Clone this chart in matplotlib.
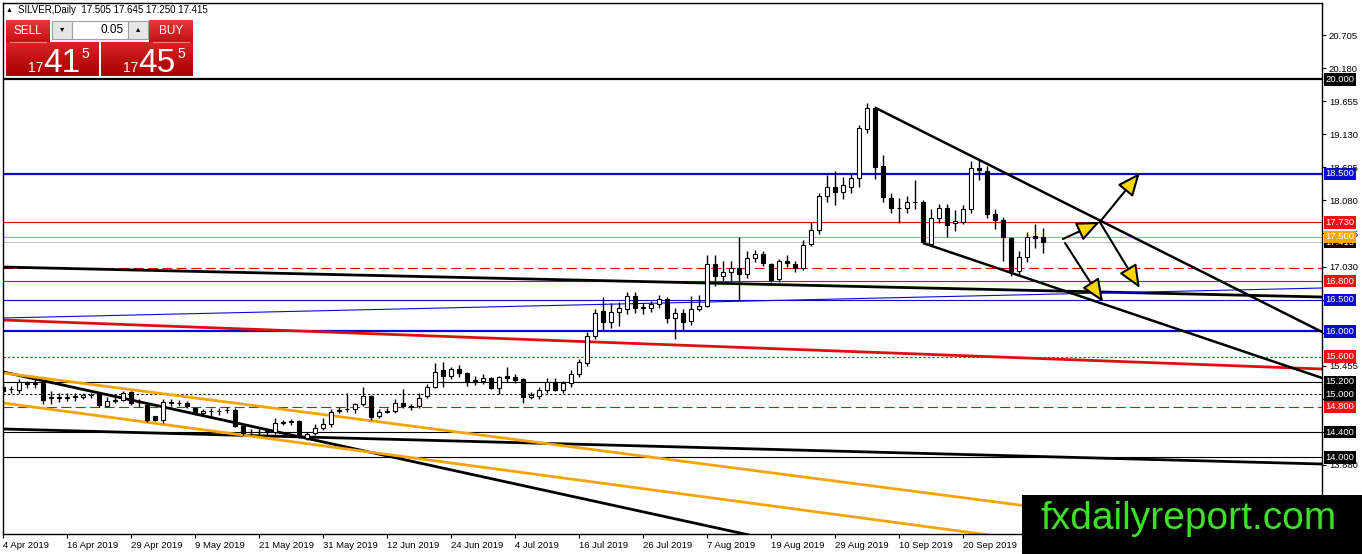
import numpy as np
import matplotlib.pyplot as plt
import matplotlib.colors as mcolors
from matplotlib.patches import Rectangle, FancyArrowPatch
from matplotlib.transforms import blended_transform_factory

plt.rcParams['font.family'] = ['Liberation Sans', 'DejaVu Sans']

# ---- data -------------------------------------------------------------
opens = [15.12, 15.08, 15.07, 15.19, 15.17, 15.18, 14.96, 14.95, 14.96, 14.96,
         14.96, 14.99, 15.00, 14.82, 14.90, 14.91, 15.04, 14.88, 14.83, 14.65,
         14.60, 14.88, 14.86, 14.87, 14.78, 14.70, 14.74, 14.74, 14.75, 14.76,
         14.50, 14.40, 14.41, 14.40, 14.40, 14.55, 14.56, 14.57, 14.31, 14.38,
         14.46, 14.53, 14.74, 14.77, 14.77, 14.85, 14.97, 14.65, 14.72, 14.74,
         14.87, 14.82, 14.81, 14.97, 15.12, 15.39, 15.30, 15.40, 15.34, 15.22,
         15.21, 15.26, 15.10, 15.29, 15.28, 15.25, 14.96, 14.97, 15.07, 15.20,
         15.07, 15.18, 15.33, 15.50, 15.93, 16.32, 16.15, 16.31, 16.36, 16.56,
         16.37, 16.37, 16.43, 16.51, 16.21, 16.29, 16.16, 16.36, 16.40, 17.07,
         16.88, 16.94, 17.00, 16.91, 17.17, 17.23, 17.07, 16.83, 17.12, 17.07,
         17.01, 17.38, 17.61, 18.15, 18.30, 18.21, 18.30, 18.44, 19.21, 19.55,
         18.62, 18.12, 17.96, 17.96, 18.05, 18.05, 17.39, 17.80, 17.96, 17.72,
         17.74, 17.94, 18.60, 18.55, 17.86, 17.77, 17.48, 16.96, 17.18, 17.51,
         17.505]
highs = [15.18, 15.13, 15.24, 15.22, 15.24, 15.20, 15.05, 15.02, 15.03, 15.03,
         15.02, 15.03, 15.02, 14.96, 14.96, 15.05, 15.06, 14.93, 14.88, 14.66,
         14.93, 14.93, 14.91, 14.89, 14.80, 14.77, 14.79, 14.78, 14.80, 14.78,
         14.52, 14.45, 14.45, 14.44, 14.62, 14.60, 14.61, 14.60, 14.40, 14.53,
         14.62, 14.77, 14.80, 15.02, 14.87, 15.12, 14.99, 14.77, 14.78, 14.92,
         15.09, 14.84, 15.02, 15.16, 15.50, 15.51, 15.44, 15.47, 15.36, 15.30,
         15.32, 15.28, 15.30, 15.43, 15.32, 15.26, 15.04, 15.11, 15.26, 15.26,
         15.22, 15.39, 15.56, 15.99, 16.35, 16.55, 16.45, 16.47, 16.62, 16.62,
         16.45, 16.49, 16.57, 16.54, 16.37, 16.36, 16.56, 16.58, 17.21, 17.22,
         17.12, 17.11, 17.50, 17.28, 17.30, 17.28, 17.09, 17.15, 17.22, 17.12,
         17.45, 17.74, 18.20, 18.48, 18.54, 18.45, 18.52, 19.27, 19.63, 19.58,
         18.80, 18.20, 18.12, 18.15, 18.40, 18.08, 17.95, 18.02, 18.02, 17.92,
         18.00, 18.70, 18.72, 18.62, 17.95, 17.82, 17.50, 17.27, 17.58, 17.70,
         17.645]
lows = [14.98, 15.03, 15.03, 15.10, 15.10, 14.85, 14.85, 14.88, 14.89, 14.90,
        14.92, 14.94, 14.80, 14.80, 14.86, 14.89, 14.83, 14.80, 14.56, 14.57,
        14.55, 14.82, 14.82, 14.79, 14.68, 14.66, 14.63, 14.68, 14.71, 14.48,
        14.36, 14.36, 14.35, 14.35, 14.37, 14.51, 14.52, 14.30, 14.27, 14.35,
        14.43, 14.49, 14.70, 14.72, 14.70, 14.82, 14.60, 14.62, 14.70, 14.71,
        14.79, 14.75, 14.78, 14.94, 15.10, 15.12, 15.25, 15.28, 15.14, 15.15,
        15.17, 15.09, 15.00, 15.20, 15.18, 14.86, 14.93, 14.93, 15.03, 15.05,
        15.03, 15.12, 15.28, 15.45, 15.88, 16.02, 16.06, 16.09, 16.27, 16.30,
        16.27, 16.31, 16.37, 16.14, 15.88, 16.02, 16.10, 16.33, 16.38, 16.72,
        16.80, 16.75, 16.50, 16.84, 17.10, 17.04, 16.79, 16.79, 17.03, 16.94,
        16.97, 17.36, 17.55, 18.05, 18.00, 18.10, 18.20, 18.30, 19.15, 18.42,
        18.05, 17.88, 17.72, 17.88, 17.95, 17.40, 17.37, 17.72, 17.50, 17.60,
        17.70, 17.88, 18.40, 17.80, 17.62, 17.12, 16.88, 16.90, 17.10, 17.33,
        17.25]
closes = [15.05, 15.09, 15.19, 15.16, 15.18, 14.91, 14.95, 14.96, 14.95, 14.97,
          14.99, 14.99, 14.83, 14.90, 14.91, 15.03, 14.86, 14.89, 14.60, 14.60,
          14.88, 14.86, 14.86, 14.82, 14.70, 14.74, 14.74, 14.74, 14.76, 14.50,
          14.39, 14.41, 14.40, 14.42, 14.55, 14.56, 14.57, 14.33, 14.37, 14.47,
          14.53, 14.72, 14.76, 14.77, 14.85, 14.97, 14.64, 14.72, 14.74, 14.87,
          14.82, 14.80, 14.95, 15.12, 15.36, 15.29, 15.40, 15.34, 15.21, 15.23,
          15.26, 15.10, 15.28, 15.26, 15.23, 14.96, 14.99, 15.07, 15.20, 15.07,
          15.18, 15.33, 15.51, 15.93, 16.29, 16.15, 16.31, 16.37, 16.56, 16.37,
          16.38, 16.43, 16.51, 16.21, 16.29, 16.15, 16.36, 16.41, 17.07, 16.88,
          16.94, 17.00, 16.91, 17.16, 17.23, 17.08, 16.81, 17.12, 17.08, 17.01,
          17.37, 17.61, 18.15, 18.29, 18.21, 18.32, 18.44, 19.23, 19.55, 18.61,
          18.13, 17.96, 17.96, 18.06, 18.06, 17.42, 17.80, 17.96, 17.69, 17.75,
          17.94, 18.60, 18.56, 17.86, 17.77, 17.50, 16.96, 17.18, 17.50, 17.49,
          17.415]

date_ticks = [0, 8, 16, 24, 32, 40, 48, 56, 64, 72, 80, 88, 96, 104, 112, 120]
date_labels = ['4 Apr 2019', '16 Apr 2019', '29 Apr 2019', '9 May 2019',
               '21 May 2019', '31 May 2019', '12 Jun 2019', '24 Jun 2019',
               '4 Jul 2019', '16 Jul 2019', '26 Jul 2019', '7 Aug 2019',
               '19 Aug 2019', '29 Aug 2019', '10 Sep 2019', '20 Sep 2019']
price_ticks = [20.705, 20.180, 19.655, 19.130, 18.605, 18.080, 17.555, 17.030,
               16.505, 15.980, 15.455, 14.930, 14.405, 13.880, 13.355]
# grid labels that sit fully under a level tag (or the watermark) stay blank
hidden_ticks = [16.505, 15.980, 14.930, 14.405, 13.355]

# horizontal levels
levels = [20.000, 18.500, 17.730, 17.415, 17.500, 17.000, 16.800, 16.500,
          16.000, 15.600, 15.200, 15.000, 14.800, 14.400, 14.000]
level_colors = ['black', '#0a0ad2', '#e00000', '#c0c0c0', '#ffa500', '#e00000',
                '#e00000', '#0a0ad2', '#0a0ad2', '#e00000', 'black', 'black',
                '#e00000', 'black', 'black']
level_widths = [1.6, 1.6, 0.8, 0.8, 0.8, 0.8, 0.8, 0.8, 1.6, 0.8, 0.8, 0.8,
                0.8, 0.8, 0.8]
level_dashes = [None, None, None, None, None, (9, 4), None, None, None,
                (2, 2), None, (2, 2), (9, 4), None, None]
level_tags = [True, True, True, True, True, False, True, True, True, True,
              True, True, True, True, True]
tag_colors = ['black', '#0a0ad2', '#ee1111', 'black', '#ffa500', None,
              '#ee1111', '#0a0ad2', '#0a0ad2', '#ee1111', 'black', 'black',
              '#ee1111', 'black', 'black']

# trend lines: (bar0, price0, bar1, price1)
trend_x0 = [0, 0, 0, 0, 0, 0, 0, 109.1, 115.0]
trend_y0 = [17.022, 16.213, 16.181, 14.451, 15.356, 15.340, 14.864, 19.546, 17.403]
trend_x1 = [164.9, 164.9, 164.9, 164.9, 164.9, 164.9, 164.9, 164.9, 164.9]
trend_y1 = [16.546, 16.689, 15.403, 13.895, 10.780, 12.620, 12.060, 15.990, 15.260]
trend_colors = ['black', '#0a0ad2', '#dd1010', 'black', 'black', '#f5a30a',
                '#f5a30a', 'black', 'black']
trend_widths = [2.0, 0.8, 2.0, 2.0, 2.0, 2.0, 2.0, 1.8, 1.8]

# scenario arrows: (bar0, price0) -> (bar1, price1)
arrow_x0 = [132.5, 137.1, 137.1, 132.75]
arrow_y0 = [17.467, 17.737, 17.737, 17.404]
arrow_x1 = [137.1, 142.1, 142.1, 137.5]
arrow_y1 = [17.737, 18.515, 16.689, 16.467]

header = 'SILVER,Daily  17.505 17.645 17.250 17.415'

# ---- figure -----------------------------------------------------------
W, H = 1362, 554
fig = plt.figure(figsize=(W / 100, H / 100), dpi=100)
fig.patch.set_facecolor('white')
ax = fig.add_axes([3 / W, 20 / H, 1319 / W, 531 / H])
ax.set_xlim(0, 1319 / 8)
ax.set_ylim(12.784, 21.213)

for i, lv in enumerate(levels):
    ln = ax.axhline(lv, color=level_colors[i], lw=level_widths[i], zorder=1)
    if level_dashes[i] is not None:
        ln.set_dashes(level_dashes[i])

for i in range(len(trend_x0)):
    ax.plot([trend_x0[i], trend_x1[i]], [trend_y0[i], trend_y1[i]],
            color=trend_colors[i], lw=trend_widths[i], zorder=2,
            solid_capstyle='butt')

# candles
x = np.arange(len(opens))
o = np.array(opens); c = np.array(closes)
hi = np.array(highs); lo = np.array(lows)
ax.vlines(x, lo, hi, color='black', lw=1, zorder=3)
up = c >= o
ax.bar(x[up], (c - o)[up], bottom=o[up], width=0.62, color='white',
       edgecolor='black', lw=0.8, zorder=4)
ax.bar(x[~up], (o - c)[~up], bottom=c[~up], width=0.62, color='black',
       edgecolor='black', lw=0.8, zorder=4)

for i in range(len(arrow_x0)):
    ar = FancyArrowPatch((arrow_x0[i], arrow_y0[i]), (arrow_x1[i], arrow_y1[i]),
                         arrowstyle='-|>,head_length=0.7,head_width=0.3',
                         mutation_scale=20, fc='#ffd500', ec='black', lw=1.5,
                         shrinkA=0, shrinkB=0, zorder=6)
    ax.add_patch(ar)

ax.yaxis.tick_right()
ax.set_yticks(price_ticks)
ax.set_yticklabels(['' if p in hidden_ticks else '%.3f' % p for p in price_ticks])
ax.set_xticks(date_ticks)
ax.set_xticklabels(date_labels, ha='left')
ax.tick_params(axis='both', direction='out', length=3, width=0.8,
               labelsize=6.8, pad=2, colors='black')
for s in ax.spines.values():
    s.set_linewidth(1)

tr = blended_transform_factory(ax.transAxes, ax.transData)
for i, lv in enumerate(levels):
    if level_tags[i]:
        ax.text(1.0025, lv, '%.3f' % lv, transform=tr, ha='left', va='center',
                fontsize=6.8, color='white', clip_on=False, zorder=8 + i * 0.01,
                bbox=dict(boxstyle='square,pad=0.18', fc=tag_colors[i], ec='none'))

# ---- overlay: trade panel, header and watermark (pixel coordinates) ----
ov = fig.add_axes([0, 0, 1, 1], zorder=10)
ov.axis('off')
ov.patch.set_alpha(0)


def grad_box(x0, y0, x1, y1, ctop, cbot):
    t = np.linspace(0, 1, 64)[:, None, None]
    a = np.array(mcolors.to_rgb(ctop)); b = np.array(mcolors.to_rgb(cbot))
    img = a + (b - a) * t
    ov.imshow(img, extent=(x0, x1, y1, y0), aspect='auto',
              interpolation='bilinear', zorder=1)


ov.text(6, 10, '\u25b2', fontsize=5, va='center', ha='left', color='black')
ov.text(18, 10, header, fontsize=7, va='center', ha='left', color='black')

# sell / buy tabs and price boxes
grad_box(6, 20, 50, 42, '#e63a3a', '#c41010')
grad_box(149, 20, 193, 42, '#e63a3a', '#c41010')
grad_box(6, 42, 99, 76, '#d82424', '#a80000')
grad_box(101, 42, 193, 76, '#d82424', '#a80000')
ov.plot([10, 46], [42, 42], color='#f08080', lw=0.8, zorder=2)
ov.plot([153, 189], [42, 42], color='#f08080', lw=0.8, zorder=2)
ov.add_patch(Rectangle((52, 21), 20, 18, fc='#e6e6e6', ec='#a0a0a0', lw=0.8, zorder=2))
ov.add_patch(Rectangle((72, 21), 56, 18, fc='white', ec='#a0a0a0', lw=0.8, zorder=2))
ov.add_patch(Rectangle((128, 21), 20, 18, fc='#e6e6e6', ec='#a0a0a0', lw=0.8, zorder=2))
ov.text(62, 30, '\u25be', fontsize=6, ha='center', va='center', color='black', zorder=3)
ov.text(138, 30, '\u25b4', fontsize=6, ha='center', va='center', color='black', zorder=3)
ov.text(124, 30, '0.05', fontsize=8.5, ha='right', va='center', color='black', zorder=3)
ov.text(28, 31, 'SELL', fontsize=8.5, ha='center', va='center', color='white', zorder=3)
ov.text(171, 31, 'BUY', fontsize=8.5, ha='center', va='center', color='white', zorder=3)
ov.text(36, 72, '17', fontsize=10, ha='center', va='baseline', color='white', zorder=3)
ov.text(43, 72, '41', fontsize=24, ha='left', va='baseline', color='white', zorder=3)
ov.text(85, 58, '5', fontsize=10, ha='center', va='baseline', color='white', zorder=3)
ov.text(131, 72, '17', fontsize=10, ha='center', va='baseline', color='white', zorder=3)
ov.text(138, 72, '45', fontsize=24, ha='left', va='baseline', color='white', zorder=3)
ov.text(181, 58, '5', fontsize=10, ha='center', va='baseline', color='white', zorder=3)

# watermark
ov.add_patch(Rectangle((1022, 495), W - 1022, H - 495, fc='black', ec='none', zorder=2))
ov.text(1189, 529, 'fxdailyreport.com', fontsize=28, ha='center', va='baseline',
        color='#3ee02a', zorder=3)

ov.set_xlim(0, W)
ov.set_ylim(H, 0)

fig.savefig('out.png', dpi=100)
